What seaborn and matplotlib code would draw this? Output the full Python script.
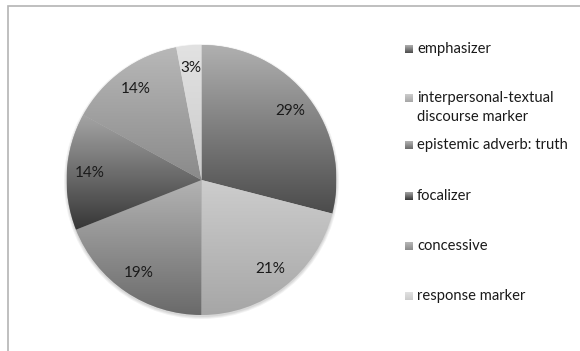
import numpy as np
import matplotlib
matplotlib.use("Agg")
import matplotlib.pyplot as plt
from matplotlib.patches import Rectangle, Circle
import seaborn as sns

# Share of each category (percent)
categories = [
    "emphasizer",
    "interpersonal-textual\ndiscourse marker",
    "epistemic adverb: truth",
    "focalizer",
    "concessive",
    "response marker",
]
shares = [29, 21, 19, 14, 14, 3]

# Vertical gradient (top colour, bottom colour) per slice
grad_top = ["#b0b0b0", "#cdcdcd", "#b3b3b3", "#a4a4a4", "#b8b8b8", "#e2e2e2"]
grad_bottom = ["#4b4b4b", "#a6a6a6", "#6a6a6a", "#363636", "#8a8a8a", "#cbcbcb"]

sns.set_theme(style="white")
plt.rcParams["font.family"] = ["Lato", "DejaVu Sans"]

W, H = 580, 351
fig = plt.figure(figsize=(W / 100, H / 100), dpi=100)
fig.patch.set_facecolor("white")
ax = fig.add_axes([0, 0, 1, 1])

cx, cy, r = 201.5, H - 180, 135

# soft drop shadow under the pie
for k, a in enumerate([0.05, 0.05, 0.06]):
    ax.add_patch(Circle((cx, cy - 1.5), r + 2.5 - k, facecolor="#000000",
                        alpha=a, linewidth=0, zorder=0))

wedges, texts, autotexts = ax.pie(
    shares,
    startangle=90,
    counterclock=False,
    center=(cx, cy),
    radius=r,
    colors=grad_top,
    autopct=lambda p: f"{p:.0f}%",
    pctdistance=0.83,
    wedgeprops=dict(linewidth=0),
    textprops=dict(fontsize=11, color="#1a1a1a"),
)
for t in autotexts:
    t.set_zorder(5)

# fill each wedge with its own top-to-bottom gradient
ramp = np.linspace(0, 1, 256).reshape(-1, 1)
cmaps = [sns.blend_palette([t, b], as_cmap=True) for t, b in zip(grad_top, grad_bottom)]
for w, cmap in zip(wedges, cmaps):
    ext = w.get_path().get_extents()
    im = ax.imshow(ramp, cmap=cmap, origin="upper", aspect="auto",
                   extent=(ext.x0, ext.x1, ext.y0, ext.y1),
                   interpolation="bilinear", zorder=2)
    im.set_clip_path(w)

# legend: small gradient squares with labels
legend_rows = [49, 98, 145, 196, 246, 296]
sq = 8
for lab, cmap, py in zip(categories, cmaps, legend_rows):
    y = H - py
    ax.imshow(ramp, cmap=cmap, origin="upper", aspect="auto",
              extent=(405, 405 + sq, y - sq / 2, y + sq / 2),
              interpolation="bilinear", zorder=3)
    for i, line in enumerate(lab.split("\n")):
        ax.text(417, y - 19 * i, line, fontsize=10.6, color="#1a1a1a",
                va="center", ha="left")

# chart-area frame
ax.add_patch(Rectangle((7.5, -10), W + 20, H - 5.5 + 10, facecolor="none",
                       edgecolor="#b4b4b4", linewidth=1.2, zorder=6))

ax.set_xlim(0, W)
ax.set_ylim(0, H)
ax.set_axis_off()

fig.savefig("out.png", dpi=100, facecolor="white")
